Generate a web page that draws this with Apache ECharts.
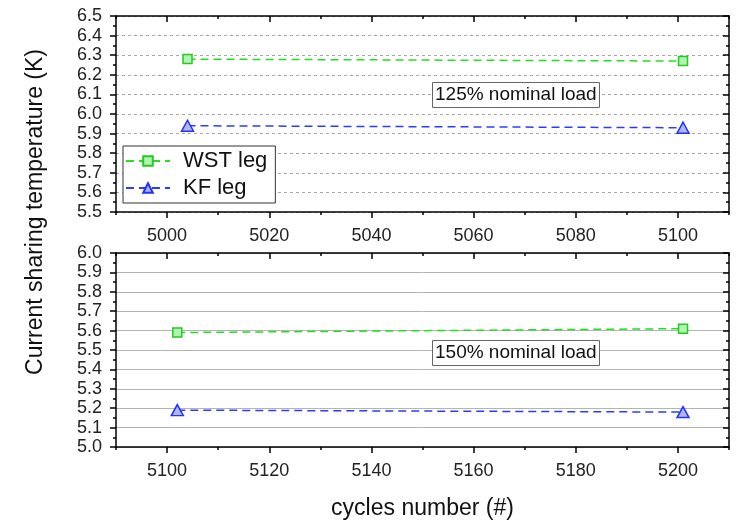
<!DOCTYPE html>
<html>
<head>
<meta charset="utf-8">
<script src="https://cdn.jsdelivr.net/npm/echarts@6/dist/echarts.min.js"></script>
<style>
  html, body { margin: 0; padding: 0; background: #fff; }
  #chart { width: 743px; height: 521px; }
</style>
</head>
<body>
<div id="chart"></div>
<script>
// data
var cyclesTop = [5004, 5101]
var wstTop = [6.28, 6.27]
var kfTop = [5.94, 5.93]
var cyclesBottom = [5102, 5201]
var wstBottom = [5.59, 5.61]
var kfBottom = [5.19, 5.18]

// tick labels
var xMajorTop = [5000, 5020, 5040, 5060, 5080, 5100]
var xMinorTop = [4990, 5010, 5030, 5050, 5070, 5090, 5110]
var xMajorBottom = [5100, 5120, 5140, 5160, 5180, 5200]
var xMinorBottom = [5090, 5110, 5130, 5150, 5170, 5190, 5210]

var FONT = 'Liberation Sans, Arial, sans-serif'
var BLACK = '#000'

function pairs(xs, ys) {
  return xs.map(function (x, i) { return [x, ys[i]] })
}

function xAxes(gridIndex, min, max, major, minor, name) {
  var base = { type: 'value', gridIndex: gridIndex, min: min, max: max, splitLine: { show: false } }
  return [
    Object.assign({}, base, {
      position: 'bottom',
      axisLine: { show: true, lineStyle: { color: BLACK, width: 1.5 } },
      axisTick: { show: true, customValues: major, length: 6, lineStyle: { color: BLACK, width: 1.5 } },
      axisLabel: {
        customValues: major, fontSize: 18, color: '#222', fontFamily: FONT, margin: 15,
        formatter: function (v) { return String(v) }
      },
      name: name,
      nameLocation: 'middle',
      nameGap: 50,
      nameTextStyle: { fontSize: 23, color: '#111', fontFamily: FONT }
    }),
    Object.assign({}, base, {
      position: 'bottom',
      axisLine: { show: false },
      axisTick: { show: true, customValues: minor, length: 3, lineStyle: { color: BLACK, width: 1.5 } },
      axisLabel: { show: false }
    }),
    Object.assign({}, base, {
      position: 'top',
      axisLine: { show: true, lineStyle: { color: BLACK, width: 1.5 } },
      axisTick: { show: true, inside: true, customValues: major, length: 6, lineStyle: { color: BLACK, width: 1.5 } },
      axisLabel: { show: false }
    }),
    Object.assign({}, base, {
      position: 'top',
      axisLine: { show: false },
      axisTick: { show: true, inside: true, customValues: minor, length: 3, lineStyle: { color: BLACK, width: 1.5 } },
      axisLabel: { show: false }
    })
  ]
}

function yAxes(gridIndex, min, max, gridType) {
  var base = { type: 'value', gridIndex: gridIndex, min: min, max: max, interval: 0.1 }
  return [
    Object.assign({}, base, {
      position: 'left',
      axisLine: { show: true, lineStyle: { color: BLACK, width: 1.5 } },
      axisTick: { show: true, length: 6, lineStyle: { color: BLACK, width: 1.5 } },
      minorTick: { show: true, splitNumber: 2, length: 3, lineStyle: { color: BLACK, width: 1.5 } },
      axisLabel: {
        fontSize: 18, color: '#222', fontFamily: FONT, margin: 14,
        formatter: function (v) { return v.toFixed(1) }
      },
      splitLine: { show: true, lineStyle: { color: gridType === 'dashed' ? '#a8a8a8' : '#b4b4b4', width: 1, type: gridType === 'dashed' ? [3, 3] : 'solid' } }
    }),
    Object.assign({}, base, {
      position: 'right',
      axisLine: { show: true, lineStyle: { color: BLACK, width: 1.5 } },
      axisTick: { show: true, inside: true, length: 6, lineStyle: { color: BLACK, width: 1.5 } },
      minorTick: { show: true, splitNumber: 2, length: 3, lineStyle: { color: BLACK, width: 1.5 } },
      axisLabel: { show: false },
      splitLine: { show: false }
    })
  ]
}

function wstSeries(data, xi, yi) {
  return {
    name: 'WST leg', type: 'line', xAxisIndex: xi, yAxisIndex: yi,
    data: data, symbol: 'rect', symbolSize: 9, z: 5,
    lineStyle: { color: '#22e022', width: 1.5, type: [8, 5] },
    itemStyle: { color: '#b2f2b2', borderColor: '#22cc22', borderWidth: 1.5 }
  }
}

function kfSeries(data, xi, yi) {
  return {
    name: 'KF leg', type: 'line', xAxisIndex: xi, yAxisIndex: yi,
    data: data, symbol: 'triangle', symbolSize: [12, 11], z: 5,
    lineStyle: { color: '#2a3cff', width: 1.5, type: [8, 5] },
    itemStyle: { color: '#b0b8f4', borderColor: '#2233ff', borderWidth: 1.5 }
  }
}

var chart = echarts.init(document.getElementById('chart'), null, { renderer: 'canvas' })

chart.setOption({
  backgroundColor: '#fff',
  animation: false,
  textStyle: { fontFamily: FONT },
  grid: [
    { left: 116, top: 16, width: 613, height: 196 },
    { left: 116, top: 253, width: 613, height: 196 }
  ],
  title: [
    {
      text: '125% nominal load', left: 432, top: 82,
      padding: [2, 3], borderColor: '#666', borderWidth: 1, backgroundColor: '#fff',
      textStyle: { fontSize: 19, fontWeight: 'normal', color: '#111', fontFamily: FONT, lineHeight: 22 }
    },
    {
      text: '150% nominal load', left: 432, top: 340,
      padding: [2, 3], borderColor: '#666', borderWidth: 1, backgroundColor: '#fff',
      textStyle: { fontSize: 19, fontWeight: 'normal', color: '#111', fontFamily: FONT, lineHeight: 22 }
    }
  ],
  legend: {
    data: ['WST leg', 'KF leg'],
    orient: 'vertical',
    left: 123, top: 146,
    padding: [4, 8, 4, 2],
    itemGap: 5,
    itemWidth: 44, itemHeight: 12,
    borderColor: '#333', borderWidth: 1, backgroundColor: '#fff',
    textStyle: { fontSize: 22, color: '#111', fontFamily: FONT, padding: [0, 0, 0, 8] }
  },
  xAxis: []
    .concat(xAxes(0, 4990, 5110, xMajorTop, xMinorTop, ''))
    .concat(xAxes(1, 5090, 5210, xMajorBottom, xMinorBottom, 'cycles number (#)')),
  yAxis: []
    .concat(yAxes(0, 5.5, 6.5, 'dashed'))
    .concat(yAxes(1, 5.0, 6.0, 'solid')),
  graphic: [{
    type: 'text', x: 36, y: 212, rotation: Math.PI / 2,
    style: {
      text: 'Current sharing temperature (K)',
      font: '23px ' + FONT, fill: '#111',
      textAlign: 'center', textVerticalAlign: 'middle'
    }
  }],
  series: [
    wstSeries(pairs(cyclesTop, wstTop), 0, 0),
    kfSeries(pairs(cyclesTop, kfTop), 0, 0),
    wstSeries(pairs(cyclesBottom, wstBottom), 4, 2),
    kfSeries(pairs(cyclesBottom, kfBottom), 4, 2)
  ]
})
</script>
</body>
</html>
